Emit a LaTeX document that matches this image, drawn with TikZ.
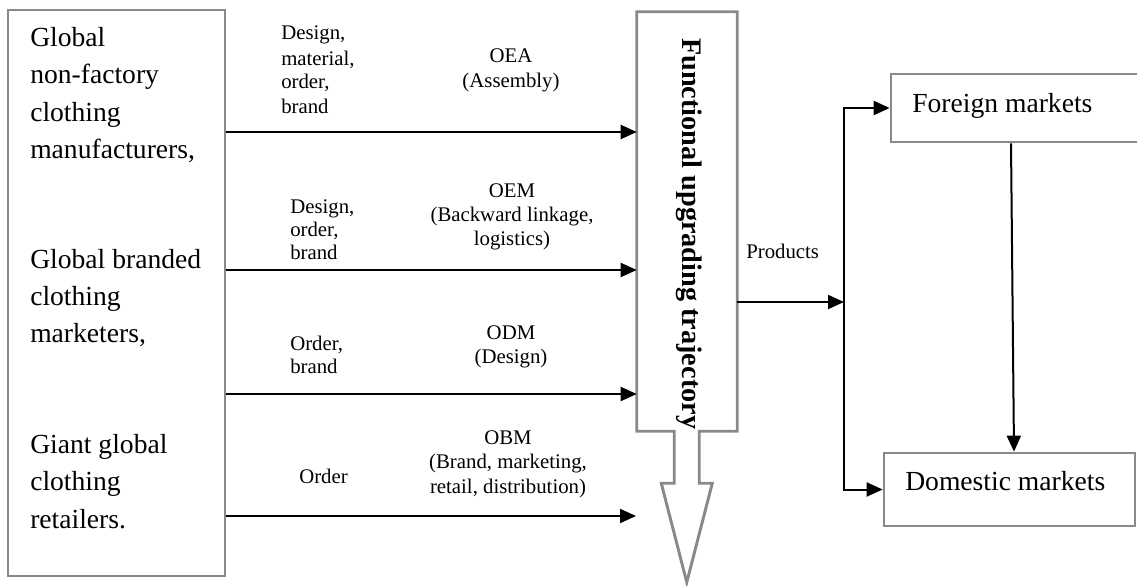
\documentclass[tikz,border=0pt]{standalone}
\usepackage{fontspec}
\setmainfont{Liberation Serif}
\usetikzlibrary{arrows.meta}
\definecolor{boxgray}{RGB}{137,137,137}

\begin{document}
\begin{tikzpicture}[x=0.75pt,y=-0.75pt,
  frame/.style={draw=boxgray, line width=2pt},
  big/.style={font=\fontsize{20.7}{24}\selectfont, inner sep=0pt},
  small/.style={font=\fontsize{15.6}{18}\selectfont, inner sep=0pt},
  arr/.style={line width=1.5pt, -{Triangle[length=12pt,width=10.5pt]}}]

\useasboundingbox (0,0) rectangle (1137,585);
\clip (0,0) rectangle (1137,585);

% boxes
\node[frame, minimum width=162.75pt, minimum height=424.5pt] (src) at (116.5,293) {};
\node[minimum width=75pt, minimum height=314.25pt, inner sep=0pt] (traj) at (687,221.5) {};
\node[frame, minimum width=188.25pt, minimum height=51pt] (foreign) at (1016.5,108) {};
\node[frame, minimum width=188.25pt, minimum height=54.75pt] (domestic) at (1009.5,489.5) {};

% the upgrading trajectory drawn as a hollow block arrow
\draw[draw=boxgray, line width=2.2pt, line join=miter]
  (traj.south west) -- (traj.north west) -- (traj.north east) -- (traj.south east)
  -- ++(-38,0) -- ++(0,52) -- ++(13,0) -- ++(-25.5,99) -- ++(-25.5,-99)
  -- ++(13,0) -- ++(0,-52) -- cycle;
\node[big, font=\fontsize{21.2}{24}\selectfont\bfseries, rotate=-90, anchor=base west]
  (trajtext) at (682,38) {Functional upgrading trajectory};

% actors
\node[big, anchor=base west] (a1) at (30,47) {Global};
\node[big, anchor=base west] (a2) at (30,84) {non-factory};
\node[big, anchor=base west] (a3) at (30,121) {clothing};
\node[big, anchor=base west] (a4) at (30,158) {manufacturers,};
\node[big, anchor=base west] (b1) at (30,268) {Global branded};
\node[big, anchor=base west] (b2) at (30,305) {clothing};
\node[big, anchor=base west] (b3) at (30,342) {marketers,};
\node[big, anchor=base west] (c1) at (30,453) {Giant global};
\node[big, anchor=base west] (c2) at (30,490) {clothing};
\node[big, anchor=base west] (c3) at (30,528) {retailers.};

% arrow heights
\coordinate (y1) at (0,132);
\coordinate (y2) at (0,270);
\coordinate (y3) at (0,394);
\coordinate (y4) at (0,516);
\coordinate (end4) at (636,516);

\draw[arr] (src.east |- y1) -- (traj.west |- y1);
\draw[arr] (src.east |- y2) -- (traj.west |- y2);
\draw[arr] (src.east |- y3) -- (traj.west |- y3);
\draw[arr] (src.east |- y4) -- (end4);

% inputs supplied by the buyers
\node[small, anchor=base west] (i11) at (281,40) {Design,};
\node[small, anchor=base west] (i12) at (281,65) {material,};
\node[small, anchor=base west] (i13) at (281,89) {order,};
\node[small, anchor=base west] (i14) at (281,113) {brand};
\node[small, anchor=base west] (i21) at (290,213) {Design,};
\node[small, anchor=base west] (i22) at (290,236) {order,};
\node[small, anchor=base west] (i23) at (290,259) {brand};
\node[small, anchor=base west] (i31) at (290,350) {Order,};
\node[small, anchor=base west] (i32) at (290,373) {brand};
\node[small, anchor=base west] (i41) at (299,483) {Order};

% functions of the suppliers
\node[small, anchor=base] (f11) at (511,63) {OEA};
\node[small, anchor=base] (f12) at (511,87) {(Assembly)};
\node[small, anchor=base] (f21) at (512,197) {OEM};
\node[small, anchor=base] (f22) at (512,221) {(Backward linkage,};
\node[small, anchor=base] (f23) at (512,245) {logistics)};
\node[small, anchor=base] (f31) at (511,339) {ODM};
\node[small, anchor=base] (f32) at (511,363) {(Design)};
\node[small, anchor=base] (f41) at (508,444) {OBM};
\node[small, anchor=base] (f42) at (508,468) {(Brand, marketing,};
\node[small, anchor=base] (f43) at (508,493) {retail, distribution)};

% markets
\node[big, anchor=base west] (ftext) at (912,112) {Foreign markets};
\node[big, anchor=base west] (dtext) at (905,490) {Domestic markets};

\coordinate (junc) at (844,302);
\draw[arr] (traj.east |- junc) -- (junc);
\node[small, anchor=base west] (prod) at (746,258) {Products};
\draw[arr] (junc) |- (foreign);
\draw[arr] (junc) |- (domestic);

\coordinate (dtop) at (1011,0);
\coordinate (dbot) at (1014,0);
\draw[arr] (foreign.south -| dtop) -- (domestic.north -| dbot);
\end{tikzpicture}
\end{document}
